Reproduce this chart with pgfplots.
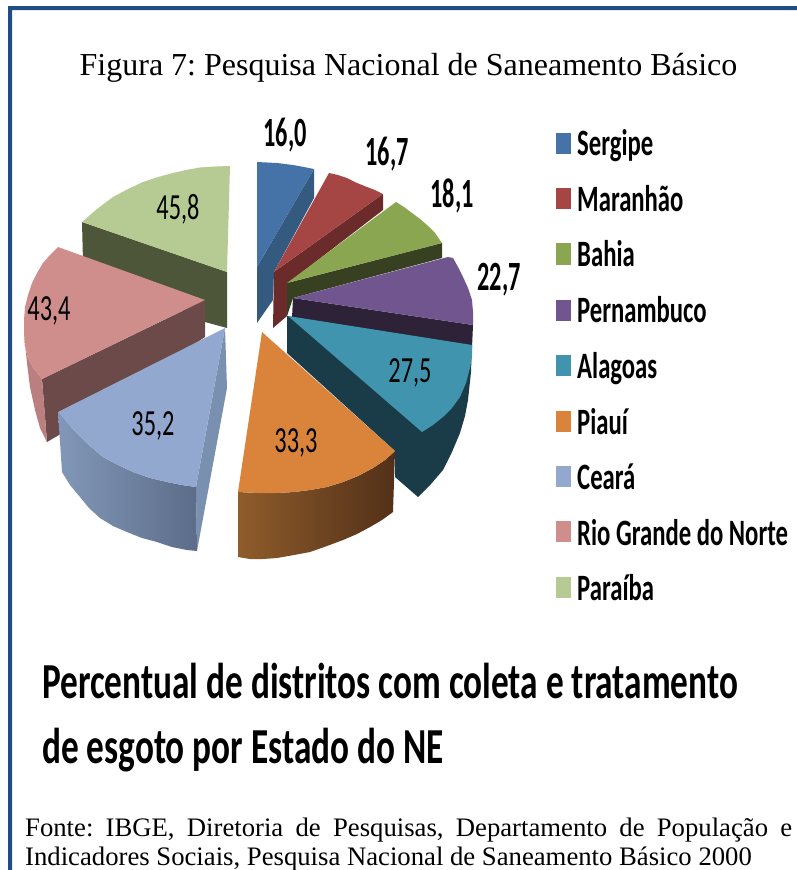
\documentclass[border=0pt]{standalone}
\usepackage{fontspec}
\setmainfont{Liberation Serif}
\newfontfamily\carl{Carlito}
\usepackage{pgfplots}
\pgfplotsset{compat=1.18}
\frenchspacing
\newcommand{\dc}[1]{\definecolor{C#1}{HTML}{#1}}
\definecolor{frame}{HTML}{1F4E85}
\dc{4E563A}\dc{B6CB93}\dc{6B4A49}\dc{BC7F7F}\dc{CF8E8C}\dc{7A90B0}\dc{8298B8}\dc{5C6C89}\dc{92A8CF}
\dc{345A80}\dc{4572A7}\dc{6A2B2A}\dc{A54645}\dc{374020}\dc{8AA650}\dc{2E2238}\dc{70558F}\dc{1A3C48}\dc{4094AE}
\dc{8F5C2B}\dc{523018}\dc{DA843B}
\newcommand{\poly}[2]{\addplot[fill=#1,draw=none,forget plot] coordinates {#2} --cycle;}
\newcommand{\lab}[3]{\node[inner sep=0pt] at (axis cs:#1,#2) {\carl\fontsize{32}{32}\selectfont\scalebox{0.76}[1.15]{#3}};}
\newcommand{\blab}[3]{\node[inner sep=0pt] at (axis cs:#1,#2) {\carl\bfseries\fontsize{32}{32}\selectfont\scalebox{0.76}[1.3]{#3}};}
\newcommand{\leg}[2]{\node[inner sep=0pt,anchor=base west] at (axis cs:577,#1) {\carl\bfseries\fontsize{31}{31}\selectfont\scalebox{0.797}[1.2]{#2}};}
\begin{document}
\begin{tikzpicture}
\begin{axis}[width=797pt,height=870pt,scale only axis,axis lines=none,
  xmin=0,xmax=797,ymin=0,ymax=870,y dir=reverse,clip=true]
\poly{white}{(0,0)(797,0)(797,870)(0,870)}
% frame
\poly{frame}{(8,6)(797,6)(797,10)(12,10)(12,870)(8,870)}
% Paraiba
\poly{C4E563A}{(82,222)(227,272)(227,328)(205,322)(83,262)}
\poly{CB6CB93}{(230,166)(215,166.5)(200,167.5)(186,170)(173,173)(158,177)(143,182)(128,189)(113,197)(97,209)(82,222)(227,272)}
% Rio Grande do Norte
\poly{C6B4A49}{(205,300)(42,379)(47,442)(59,435)(205,337)}
\poly{CBC7F7F}{(24,333)(25,346)(28,358)(34,369)(42,379)(47,442)(40,428)(35,410)(30,387)(27,363)}
\poly{CCF8E8C}{(205,300)(58,247)(50,255)(43,263)(37,273)(32,283)(28,295)(25,307)(24,320)(24,333)(25,346)(28,358)(34,369)(42,379)}
% Ceara
\poly{C7A90B0}{(225,328)(196,487)(197,551)(227,388)}
\addplot[left color=C8298B8,right color=C5C6C89,draw=none,forget plot] coordinates {(58,412)(67,423)(77,433)(90,446)(103,457)(118,465)(133,472)(150,478)(167,482)(182,485)(196,487)(197,551)(187,550)(172,547)(157,542)(142,538)(127,532)(113,526)(100,518)(89,508)(80,497)(70,485)(62,472)} --cycle;
\poly{C92A8CF}{(225,328)(58,412)(67,423)(77,433)(90,446)(103,457)(118,465)(133,472)(150,478)(167,482)(182,485)(196,487)}
% Sergipe
\poly{C345A80}{(314,169)(257,267)(257,323)(273,300)(274,272)(314,198)}
\poly{C4572A7}{(257,162)(277,163)(293,165)(304,167)(314,169)(257,267)}
% Maranhao
\poly{C6A2B2A}{(274,272)(383,194)(383,210)(288,283)(287,316)(273,328)}
\poly{CA54645}{(274,272)(329,173)(338,175)(347,178)(357,183)(367,187)(375,190)(383,194)}
% Bahia
\poly{C374020}{(287,283)(442,243)(442,258)(293,298)(287,316)}
\poly{C8AA650}{(287,283)(396,202)(404,207)(412,213)(420,219)(427,225)(435,233)(442,243)}
% Pernambuco
\poly{C2E2238}{(293,298)(473,325)(472,348)(292,318)}
\poly{C70558F}{(293,298)(448,257)(453,258)(458,267)(463,277)(468,288)(472,300)(473,312)(473,325)}
% Alagoas
\poly{C1A3C48}{(287,316)(287,353)(395,451)(395,477)(418,497)(431,484)(443,470)(452,452)(460,433)(465,416)(468,400)(471,372)(472,345)}
\poly{C4094AE}{(288,316)(472,345)(472,357)(470,368)(466,383)(460,397)(452,408)(443,417)(433,425)(422,432)}
% Piaui
\addplot[left color=C8F5C2B,right color=C523018,draw=none,forget plot] coordinates {(238,492)(258,493)(277,493)(294,492)(310,490)(327,487)(343,482)(358,476)(373,468)(385,460)(395,451)(393,512)(382,520)(370,527)(357,534)(343,540)(327,546)(310,552)(294,555)(277,558)(263,559)(250,559)(238,557)} --cycle;
\poly{CDA843B}{(262,332)(395,451)(385,460)(373,468)(358,476)(343,482)(327,487)(310,490)(294,492)(277,493)(258,493)(238,492)}
% legend swatches
\poly{C4572A7}{(556,133)(571,133)(571,154)(556,154)}
\poly{CA54645}{(556,188)(571,188)(571,209)(556,209)}
\poly{C8AA650}{(556,243)(571,243)(571,265)(556,265)}
\poly{C70558F}{(556,300)(571,300)(571,321)(556,321)}
\poly{C4094AE}{(556,355)(571,355)(571,376)(556,376)}
\poly{CDA843B}{(556,411)(571,411)(571,432)(556,432)}
\poly{C92A8CF}{(556,466)(571,466)(571,487)(556,487)}
\poly{CCF8E8C}{(556,521)(571,521)(571,542)(556,542)}
\poly{CB6CB93}{(556,577)(571,577)(571,598)(556,598)}
% legend text
\leg{155}{Sergipe}
\leg{211}{Maranhão}
\leg{266}{Bahia}
\leg{322}{Pernambuco}
\leg{378}{Alagoas}
\leg{434}{Piauí}
\leg{489}{Ceará}
\leg{545}{Rio Grande do Norte}
\leg{600}{Paraíba}
% data labels
\blab{285}{135}{16,0}
\blab{387}{154}{16,7}
\blab{452}{196}{18,1}
\blab{499}{280}{22,7}
\lab{410}{373}{27,5}
\lab{296}{443}{33,3}
\lab{153}{426}{35,2}
\lab{49}{311}{43,4}
\lab{178}{209}{45,8}
% titles
\node[inner sep=0pt,anchor=base] at (axis cs:408.5,75) {\fontsize{32}{32}\selectfont Figura 7: Pesquisa Nacional de Saneamento Básico};
\node[inner sep=0pt,anchor=base west] at (axis cs:42,698) {\carl\bfseries\fontsize{48}{48}\selectfont\scalebox{0.735}[1.05]{Percentual de distritos com coleta e tratamento}};
\node[inner sep=0pt,anchor=base west] at (axis cs:42,763) {\carl\bfseries\fontsize{48}{48}\selectfont\scalebox{0.735}[1.05]{de esgoto por Estado do NE}};
\node[inner sep=0pt,anchor=base west] at (axis cs:25,836) {\fontsize{26.7}{26.7}\selectfont\makebox[767pt][s]{Fonte: IBGE, Diretoria de Pesquisas, Departamento de População e}};
\node[inner sep=0pt,anchor=base west] at (axis cs:25,865) {\fontsize{26.7}{26.7}\selectfont Indicadores Sociais, Pesquisa Nacional de Saneamento Básico 2000};
\end{axis}
\end{tikzpicture}
\end{document}
